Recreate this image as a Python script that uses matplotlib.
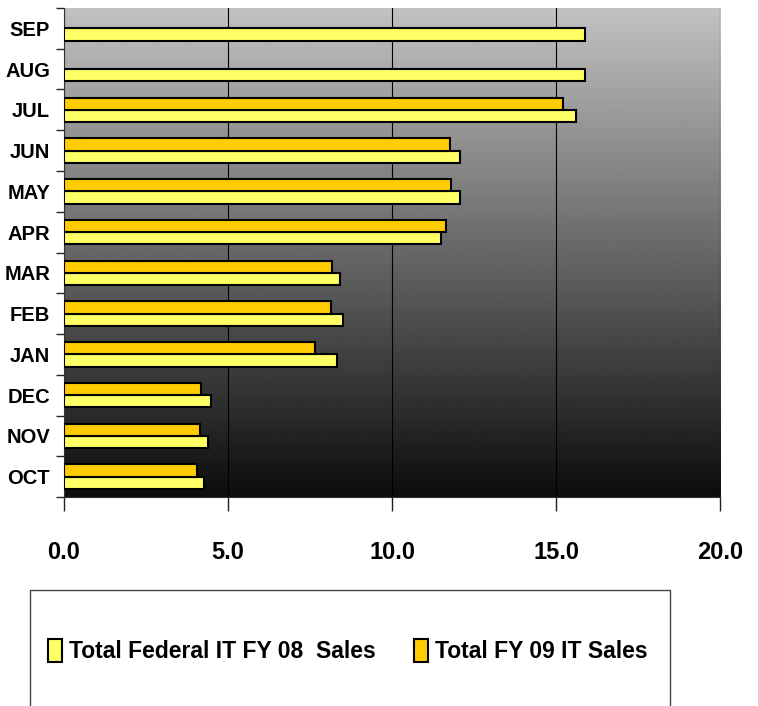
"""Federal IT sales by month: FY08 vs FY09 horizontal bar chart."""

import matplotlib

matplotlib.use("Agg")

import matplotlib.pyplot as plt
import numpy as np
from matplotlib.patches import Rectangle

plt.rcParams["font.family"] = ["Liberation Sans", "DejaVu Sans"]
plt.rcParams["font.weight"] = "bold"

MONTHS = ["OCT", "NOV", "DEC", "JAN", "FEB", "MAR", "APR", "MAY", "JUN", "JUL", "AUG", "SEP"]
FY08_SALES = [4.28, 4.40, 4.48, 8.31, 8.49, 8.40, 11.50, 12.07, 12.06, 15.60, 15.87, 15.87]
FY09_SALES = [4.06, 4.15, 4.19, 7.65, 8.14, 8.18, 11.64, 11.81, 11.78, 15.20, None, None]
X_TICKS = [0, 5, 10, 15, 20]

FY08_LABEL = "Total Federal IT FY 08  Sales"
FY09_LABEL = "Total FY 09 IT Sales"
FY08_COLOR = "#FFFF66"
FY09_COLOR = "#FFCC00"


def main() -> None:
    fig = plt.figure(figsize=(7.58, 7.06), dpi=100)
    ax = fig.add_axes([0.0844, 0.296, 0.8656, 0.6927])

    # gray-to-black gradient behind the plot area
    gradient = np.linspace(0.76, 0.05, 256).reshape(-1, 1)
    ax.imshow(gradient, cmap="gray", vmin=0, vmax=1, aspect="auto",
              extent=[0, 1, 0, 1], transform=ax.transAxes, zorder=0)

    y = np.arange(len(MONTHS))
    bar_h = 0.3
    ax.barh(y - bar_h / 2, FY08_SALES, height=bar_h, color=FY08_COLOR,
            edgecolor="black", linewidth=1.5, zorder=3, label=FY08_LABEL)

    idx09 = [i for i, v in enumerate(FY09_SALES) if v is not None]
    vals09 = [FY09_SALES[i] for i in idx09]
    ax.barh(np.array(idx09) + bar_h / 2, vals09, height=bar_h, color=FY09_COLOR,
            edgecolor="black", linewidth=1.5, zorder=3, label=FY09_LABEL)

    ax.set_xlim(0, 20)
    ax.set_ylim(-0.5, len(MONTHS) - 0.5)

    ax.set_xticks(X_TICKS)
    ax.set_xticklabels([f"{t:.1f}" for t in X_TICKS], fontsize=17)
    ax.tick_params(axis="x", length=10, width=1, pad=22, color="#222222")

    ax.set_yticks(y)
    ax.set_yticklabels(MONTHS, fontsize=14.5)
    ax.set_yticks(np.arange(len(MONTHS) + 1) - 0.5, minor=True)
    ax.tick_params(axis="y", which="major", length=0, pad=10)
    ax.tick_params(axis="y", which="minor", length=6, width=1, color="#222222")

    ax.grid(axis="x", color="black", linewidth=0.8, zorder=1)
    ax.set_axisbelow(True)
    for side in ["top", "right"]:
        ax.spines[side].set_visible(False)
    for side in ["left", "bottom"]:
        ax.spines[side].set_color("#333333")

    # legend box running off the bottom of the figure
    fig.patches.append(Rectangle((0.0396, -0.05), 0.844, 0.214, transform=fig.transFigure,
                                 facecolor="white", edgecolor="#444444", linewidth=1))
    fig.legend(loc="center left", bbox_to_anchor=(0.036, 0.078), ncol=2, frameon=False,
               fontsize=16.5, handlelength=0.6, handleheight=1.2, handletextpad=0.3,
               columnspacing=1.7)

    fig.savefig("out.png", dpi=100)
    plt.close(fig)


if __name__ == "__main__":
    main()
